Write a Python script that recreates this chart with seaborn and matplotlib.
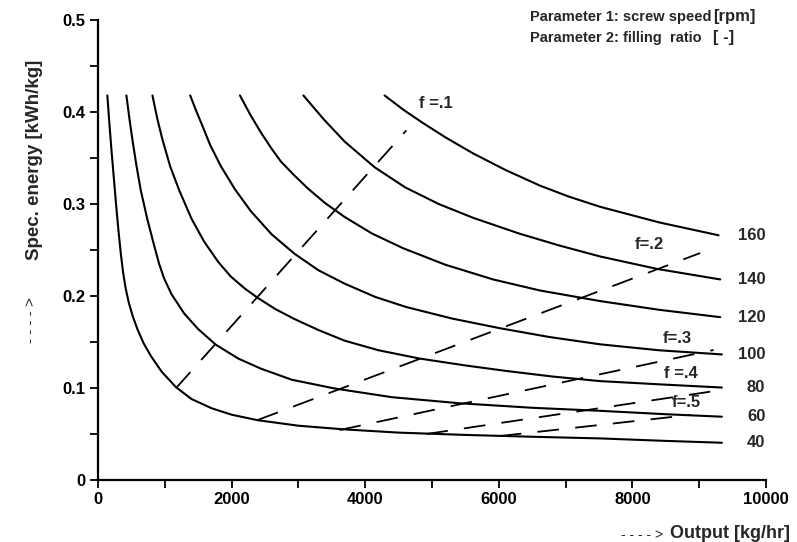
import matplotlib
matplotlib.use("Agg")
import matplotlib.pyplot as plt
import seaborn as sns
import pandas as pd
from matplotlib.ticker import MultipleLocator

# ---------------- data ----------------
speeds = [40, 60, 80, 100, 120, 140, 160]          # screw speed [rpm]

x40 = [140, 170, 200, 235, 270, 305, 340, 375, 415, 460, 520, 590, 680, 790, 950, 1166,
       1400, 1700, 2000, 2390, 3000, 3690, 4500, 5500, 6500, 7515, 8500, 9340]
y40 = [0.418, 0.388, 0.360, 0.330, 0.300, 0.272, 0.247, 0.226, 0.208, 0.193, 0.178, 0.164,
       0.149, 0.135, 0.118, 0.101, 0.088, 0.078, 0.071, 0.065, 0.059, 0.055, 0.0515, 0.049,
       0.047, 0.0452, 0.0425, 0.0405]

x60 = [425, 470, 515, 575, 640, 740, 840, 915, 990, 1100, 1290, 1500, 1765, 2100, 2440,
       2900, 3540, 4400, 5415, 6500, 7515, 8500, 9340]
y60 = [0.418, 0.393, 0.370, 0.342, 0.315, 0.283, 0.255, 0.235, 0.219, 0.202, 0.181, 0.164,
       0.147, 0.132, 0.121, 0.109, 0.0995, 0.0900, 0.0834, 0.0785, 0.0752, 0.0715, 0.0688]

x80 = [815, 890, 965, 1080, 1215, 1400, 1590, 1800, 1990, 2200, 2390, 2650, 2940, 3300,
       3690, 4200, 4815, 5500, 6115, 6800, 7515, 8400, 9340]
y80 = [0.418, 0.392, 0.370, 0.341, 0.315, 0.284, 0.259, 0.237, 0.221, 0.208, 0.198, 0.186,
       0.175, 0.163, 0.1515, 0.141, 0.132, 0.1245, 0.1185, 0.1125, 0.1075, 0.104, 0.1005]

x100 = [1380, 1460, 1540, 1680, 1840, 2050, 2290, 2600, 2940, 3300, 3690, 4150, 4615, 5300,
        6015, 6750, 7515, 8400, 9340]
y100 = [0.418, 0.403, 0.389, 0.364, 0.341, 0.316, 0.292, 0.267, 0.246, 0.228, 0.2135, 0.199,
        0.188, 0.1755, 0.165, 0.1555, 0.1475, 0.141, 0.1365]

x120 = [2125, 2280, 2445, 2600, 2740, 2940, 3140, 3400, 3690, 4100, 4565, 5200, 5915, 6615,
        7515, 8400, 9315]
y120 = [0.418, 0.397, 0.377, 0.360, 0.346, 0.331, 0.317, 0.301, 0.286, 0.268, 0.252, 0.234,
        0.218, 0.206, 0.1945, 0.185, 0.177]

x140 = [3075, 3380, 3690, 4140, 4600, 5100, 5615, 6300, 6900, 7515, 8365, 9315]
y140 = [0.418, 0.392, 0.368, 0.340, 0.318, 0.300, 0.285, 0.268, 0.255, 0.243, 0.2295, 0.218]

x160 = [4290, 4580, 4865, 5200, 5615, 6100, 6615, 7050, 7515, 8400, 9290]
y160 = [0.418, 0.402, 0.388, 0.3725, 0.355, 0.337, 0.320, 0.308, 0.297, 0.280, 0.266]

# filling ratio lines (dashed)
f_names = ["f =.1", "f=.2", "f=.3", "f =.4", "f=.5"]
f1_x, f1_y = [1166, 4616], [0.0997, 0.380]
f2_x, f2_y = [2390, 9015], [0.0652, 0.2467]
f3_x, f3_y = [3615, 9215], [0.0543, 0.1413]
f4_x, f4_y = [4916, 9165], [0.0500, 0.0960]
f5_x, f5_y = [6015, 8865], [0.0478, 0.0707]

f_label_x = [5055, 8258, 8678, 8730, 8813]
f_label_y = [0.409, 0.2565, 0.154, 0.116, 0.0837]

x_ticks = [0, 2000, 4000, 6000, 8000, 10000]
y_ticks = [0, 0.1, 0.2, 0.3, 0.4, 0.5]
y_tick_labels = ["0", "0.1", "0.2", "0.3", "0.4", "0.5"]

# ---------------- build tables ----------------
curve_x = [x40, x60, x80, x100, x120, x140, x160]
curve_y = [y40, y60, y80, y100, y120, y140, y160]
rows = []
for s, xs, ys in zip(speeds, curve_x, curve_y):
    for a, b in zip(xs, ys):
        rows.append({"speed": s, "x": a, "y": b})
df = pd.DataFrame(rows)

f_x = [f1_x, f2_x, f3_x, f4_x, f5_x]
f_y = [f1_y, f2_y, f3_y, f4_y, f5_y]
frows = []
for n, xs, ys in zip(f_names, f_x, f_y):
    for a, b in zip(xs, ys):
        frows.append({"f": n, "x": a, "y": b})
fdf = pd.DataFrame(frows)

# ---------------- styling ----------------
sns.set_style("ticks")
base = "Liberation Sans"
plt.rcParams["font.family"] = [base, "DejaVu Sans"]
plt.rcParams["font.weight"] = "bold"

fig = plt.figure(figsize=(7.97, 5.42), dpi=100)
L, R, B, T = 98 / 797, 766 / 797, 1 - 480 / 542, 1 - 20 / 542
ax = fig.add_axes([L, B, R - L, T - B])

sns.lineplot(data=df, x="x", y="y", units="speed", estimator=None, sort=False,
             color="black", lw=1.5, ax=ax, legend=False)
sns.lineplot(data=fdf, x="x", y="y", units="f", estimator=None, sort=False,
             color="black", lw=1.3, linestyle=(0, (12, 9)), ax=ax, legend=False)

ax.set_xlim(0, 10000)
ax.set_ylim(0, 0.5)
ax.set_xticks(x_ticks)
ax.set_xticklabels([str(v) for v in x_ticks])
ax.xaxis.set_minor_locator(MultipleLocator(1000))
ax.set_yticks(y_ticks)
ax.set_yticklabels(y_tick_labels)
ax.yaxis.set_minor_locator(MultipleLocator(0.05))
ax.tick_params(axis="both", which="major", direction="out", length=6, width=1.3,
               labelsize=12, pad=3, color="black", labelcolor="black")
ax.tick_params(axis="both", which="minor", direction="out", length=6, width=1.3, color="black")
for lab in ax.get_xticklabels() + ax.get_yticklabels():
    lab.set_fontweight("bold")
sns.despine(ax=ax)
for sp in ["left", "bottom"]:
    ax.spines[sp].set_linewidth(1.6)
    ax.spines[sp].set_color("black")
ax.set_xlabel("")
ax.set_ylabel("")

# speed labels at right end of curves
for s, ys in zip(speeds, curve_y):
    ax.text(9990, ys[-1], str(s), ha="right", va="center", fontsize=12, fontweight="bold")

# filling-ratio labels
for n, lx, ly in zip(f_names, f_label_x, f_label_y):
    ax.text(lx, ly, n, ha="center", va="center", fontsize=12, fontweight="bold")

# parameter legend text
def fx(px):
    return px / 797
def fy(py):
    return 1 - py / 542

fig.text(fx(530), fy(17), "Parameter 1: screw speed", ha="left", va="center",
         fontsize=10.5, fontweight="bold")
fig.text(fx(713), fy(17), "[rpm]", ha="left", va="center", fontsize=12, fontweight="bold")
fig.text(fx(530), fy(38), "Parameter 2: filling  ratio", ha="left", va="center",
         fontsize=10.5, fontweight="bold")
fig.text(fx(713), fy(38), "[ -]", ha="left", va="center", fontsize=12, fontweight="bold")

# axis titles
fig.text(fx(35), fy(160), "Spec. energy [kWh/kg]", rotation=90, ha="center", va="center",
         fontsize=13.5, fontweight="bold")
fig.text(fx(31), fy(320), "- - - - >", rotation=90, ha="center", va="center",
         fontsize=11, fontweight="normal")
fig.text(fx(790), fy(533), "Output [kg/hr]", ha="right", va="center",
         fontsize=13, fontweight="bold")
fig.text(fx(663), fy(535), "- - - - >", ha="right", va="center",
         fontsize=10, fontweight="normal")

fig.savefig("out.png", dpi=100)
